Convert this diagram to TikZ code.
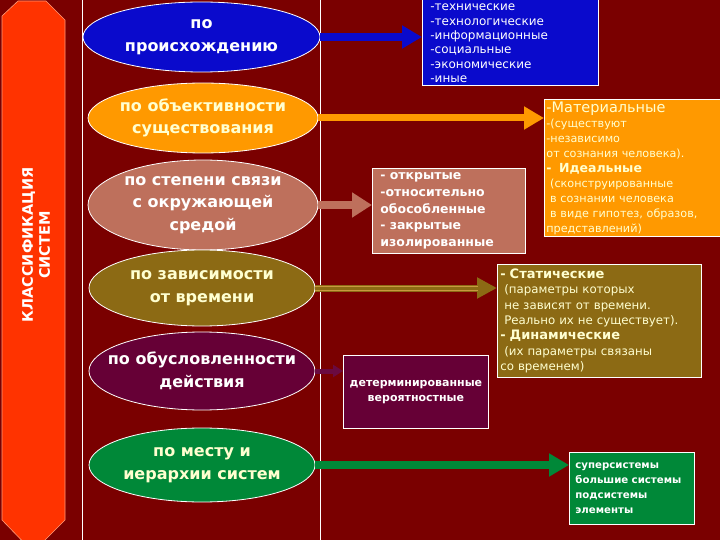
\documentclass[tikz,border=0pt]{standalone}
\usepackage{fontspec}
\setmainfont{DejaVu Sans}
\usetikzlibrary{shapes.geometric,arrows.meta}
\definecolor{bg}{HTML}{7A0000}
\definecolor{bar}{HTML}{FF3300}
\definecolor{barline}{HTML}{FF9977}
\definecolor{cblue}{HTML}{0A0ACC}
\definecolor{corange}{HTML}{FF9900}
\definecolor{cbrown}{HTML}{BE705C}
\definecolor{colive}{HTML}{8C6A14}
\definecolor{colivelight}{HTML}{C89A40}
\definecolor{cpurple}{HTML}{660036}
\definecolor{cpurplearrow}{HTML}{6A0A40}
\definecolor{cgreen}{HTML}{008838}
\definecolor{cream}{HTML}{FFFFD0}
\tikzset{
  ell/.style={ellipse, draw=white, line width=0.8pt, inner sep=-40pt, align=center,
    text=white, font=\bfseries\fontsize{16}{22.5}\selectfont},
  box/.style={rectangle, draw=white, line width=0.8pt, anchor=north west, inner sep=0pt,
    align=left, text=white},
  arr/.style={line width=8pt, -{Triangle[length=20pt,width=22pt]}},
}
\begin{document}
\begin{tikzpicture}[x=1pt,y=-1pt]
\useasboundingbox (0,0) rectangle (720,540);
\fill[bg] (0,0) rectangle (720,540);
% left bar
\filldraw[fill=bar, draw=barline, line width=0.6pt]
  (18,1) -- (46,1) -- (65,20) -- (65,520) -- (33,552) -- (2,520) -- (2,16) -- cycle;
\node[rotate=90, text=white, align=center, font=\bfseries\fontsize{14.5}{17}\selectfont]
  (title) at (36,245) {КЛАССИФИКАЦИЯ\\СИСТЕМ};
% vertical lines
\draw[white, line width=0.8pt] (82,-2) -- (82,542);
\draw[white, line width=0.8pt] (320,-2) -- (320,542);
% ellipses
\node[ell, fill=cblue, minimum width=237pt, minimum height=70pt] (e1) at (201.5,37) {по\\происхождению};
\node[ell, fill=corange, text=cream, minimum width=230pt, minimum height=70pt] (e2) at (203,118) {по объективности\\существования};
\node[ell, fill=cbrown, minimum width=230pt, minimum height=90pt] (e3) at (203,205) {по степени связи\\с окружающей\\средой};
\node[ell, fill=colive, text=cream, minimum width=226pt, minimum height=76pt] (e4) at (202,288) {по зависимости\\от времени};
\node[ell, fill=cpurple, minimum width=226pt, minimum height=78pt] (e5) at (202,371) {по обусловленности\\действия};
\node[ell, fill=cgreen, text=cream, minimum width=226pt, minimum height=74pt] (e6) at (202,465) {по месту и\\иерархии систем};
% boxes
\node[box, fill=cblue, minimum width=176pt, minimum height=92pt] (b1) at (422,-7) {};
\node[text=white, align=left, inner sep=0pt, text width=160pt, font=\fontsize{12}{14.3}\selectfont]
  (b1t) at ([yshift=-4pt]b1.center)
  {-технические\\-технологические\\-информационные\\-социальные\\-экономические\\-иные};
\node[box, fill=corange, text=cream, minimum width=182pt, minimum height=137pt, text width=178pt,
  font=\fontsize{11.2}{15}\selectfont] (b2) at (544,99)
  {{\fontsize{14.5}{15}\selectfont -Материальные}\\-(существуют\\-независимо\\от сознания человека).\\
   {\fontsize{12.5}{15}\selectfont\bfseries - \ Идеальные}\\
   \ (сконструированные\\ \ в сознании человека\\ \ в виде гипотез, образов,\\представлений)};
\node[box, fill=cbrown, minimum width=153pt, minimum height=85pt, text width=137pt,
  font=\bfseries\fontsize{12.5}{16.8}\selectfont] (b3) at (372,168)
  {- открытые\\-относительно\\обособленные\\- закрытые\\изолированные};
\node[box, fill=colive, text=cream, minimum width=204pt, minimum height=113pt, text width=198pt,
  font=\fontsize{11.8}{15.3}\selectfont] (b4) at (497,264)
  {{\bfseries\fontsize{13}{15}\selectfont - Статические}\\
   \ (параметры которых\\ \ не зависят от времени.\\ \ Реально их не существует).\\
   {\bfseries\fontsize{13}{15}\selectfont - Динамические}\\
   \ (их параметры связаны\\со временем)};
\node[box, fill=cpurple, minimum width=145pt, minimum height=73pt, text width=145pt, align=center,
  font=\bfseries\fontsize{11}{15}\selectfont] (b5) at (343,355)
  {детерминированные\\вероятностные};
\node[box, fill=cgreen, minimum width=125pt, minimum height=72pt, text width=113pt,
  font=\bfseries\fontsize{10.2}{15}\selectfont] (b6) at (569,452)
  {суперсистемы\\большие системы\\подсистемы\\элементы};
% arrows
\draw[arr, cblue] (e1.east) -- (e1.east -| b1.west);
\draw[arr, corange, line width=7pt] (e2.east) -- (e2.east -| b2.west);
\draw[arr, cbrown, -{Triangle[length=20pt,width=24pt]}] (e3.east) -- (e3.east -| b3.west);
\draw[arr, colive, line width=7pt, -{Triangle[length=20pt,width=20pt]}] (e4.east) -- (e4.east -| b4.west);
\draw[colivelight, line width=0.7pt] ([yshift=-2pt]e4.east) -- ([xshift=-19pt,yshift=-2pt]e4.east -| b4.west);
\draw[colivelight, line width=0.7pt] ([yshift=2pt]e4.east) -- ([xshift=-19pt,yshift=2pt]e4.east -| b4.west);
\draw[arr, cpurplearrow, line width=5pt, -{Triangle[length=10pt,width=12pt]}] (e5.east) -- (e5.east -| b5.west);
\draw[arr, cgreen] (e6.east) -- (e6.east -| b6.west);
\end{tikzpicture}
\end{document}
